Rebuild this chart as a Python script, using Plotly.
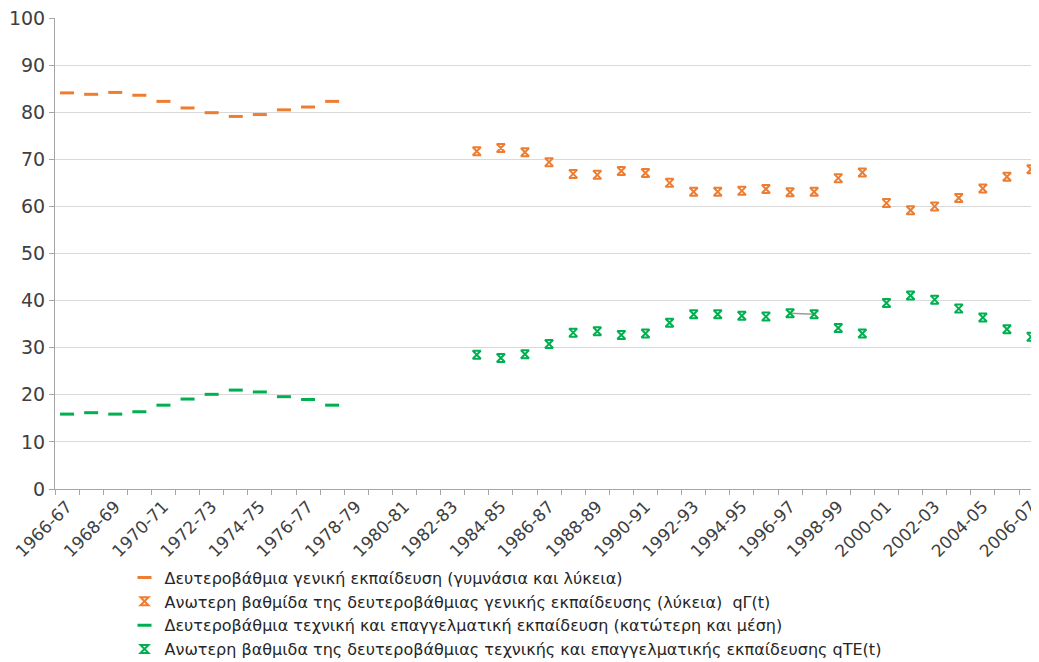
import plotly.graph_objects as go

# school years 1966-67 .. 2006-07
years = [f"{y}-{str(y + 1)[-2:]}" for y in range(1966, 2007)]

# lower + upper secondary shares, 1966-67 .. 1977-78
general_all = [84.1, 83.8, 84.2, 83.6, 82.3, 80.9, 79.9, 79.1, 79.5, 80.5, 81.1, 82.3]
technical_all = [15.9, 16.2, 15.9, 16.4, 17.8, 19.1, 20.1, 21.0, 20.6, 19.6, 19.0, 17.8]

# upper secondary shares, 1983-84 .. 2006-07
general_upper = [71.7, 72.4, 71.5, 69.4, 66.9, 66.7, 67.5, 67.1, 65.0, 63.1, 63.1, 63.3,
                 63.7, 63.0, 63.1, 66.0, 67.2, 60.7, 59.2, 60.0, 61.8, 63.8, 66.3, 67.9]
technical_upper = [28.5, 27.8, 28.6, 30.8, 33.2, 33.5, 32.7, 33.0, 35.3, 37.1, 37.1, 36.8,
                   36.6, 37.3, 37.1, 34.2, 33.0, 39.5, 41.1, 40.2, 38.3, 36.4, 33.9, 32.3]

names = [
    "Δευτεροβάθμια γενική εκπαίδευση (γυμνάσια και λύκεια)",
    "Ανωτερη βαθμίδα της δευτεροβάθμιας γενικής εκπαίδευσης (λύκεια)  qΓ(t)",
    "Δευτεροβάθμια τεχνική και επαγγελματική εκπαίδευση (κατώτερη και μέση)",
    "Ανωτερη βαθμιδα της δευτεροβάθμιας τεχνικής και επαγγελματικής εκπαίδευσης qTE(t)",
]

ORANGE = "#ED7D31"
GREEN = "#00B050"
FONT = "DejaVu Sans"  # no serif face available in the renderer

early = years[:len(general_all)]
late = years[-len(general_upper):]


def dash(color):
    return dict(symbol="line-ew", size=10, color=color, line=dict(width=3, color=color))


def star(color):
    return dict(symbol="hourglass-open", size=8, color=color, line=dict(width=2, color=color))


fig = go.Figure()
fig.add_trace(go.Scatter(x=early, y=general_all, mode="markers", name=names[0],
                         marker=dash(ORANGE)))
fig.add_trace(go.Scatter(x=late, y=general_upper, mode="markers", name=names[1],
                         marker=star(ORANGE)))
fig.add_trace(go.Scatter(x=early, y=technical_all, mode="markers", name=names[2],
                         marker=dash(GREEN)))
# stray connector between two points in the original
fig.add_trace(go.Scatter(x=late[13:15], y=technical_upper[13:15], mode="lines",
                         line=dict(color="#9a9a9a", width=1.5), showlegend=False, hoverinfo="skip"))
fig.add_trace(go.Scatter(x=late, y=technical_upper, mode="markers", name=names[3],
                         marker=star(GREEN)))

ticktext = [y if i % 2 == 0 else "" for i, y in enumerate(years)]

# page body keeps an 8px margin, so the figure is 8px smaller than the window
fig.update_layout(
    width=1031, height=654,
    margin=dict(l=47, r=0, t=10, b=173, autoexpand=False),
    paper_bgcolor="white", plot_bgcolor="white",
    font=dict(family=FONT, size=17, color="#404040"),
    showlegend=True,
    legend=dict(xref="container", yref="container", x=0.113, y=0.155,
                xanchor="left", yanchor="top",
                font=dict(family=FONT, size=16, color="#262626"), itemwidth=30,
                tracegroupgap=0, bgcolor="rgba(0,0,0,0)"),
)
fig.update_xaxes(
    type="category", categoryorder="array", categoryarray=years,
    tickvals=years, ticktext=ticktext, tickangle=-45, automargin=False,
    ticklabeloverflow="allow",
    tickson="boundaries", ticks="outside", ticklen=5, tickcolor="#a6a6a6",
    showline=True, linecolor="#a6a6a6", linewidth=1, showgrid=False,
    range=[-0.5, 40.33], tickfont=dict(family=FONT, size=17, color="#404040"),
)
fig.update_yaxes(
    range=[0, 100], dtick=10, tick0=0, automargin=False,
    ticklabeloverflow="allow",
    ticks="outside", ticklen=5, tickcolor="#a6a6a6",
    showline=True, linecolor="#a6a6a6", linewidth=1,
    showgrid=True, gridcolor="#d9d9d9", gridwidth=1, zeroline=False,
    tickfont=dict(family=FONT, size=19, color="#404040"),
)

fig.write_html("out.html")
